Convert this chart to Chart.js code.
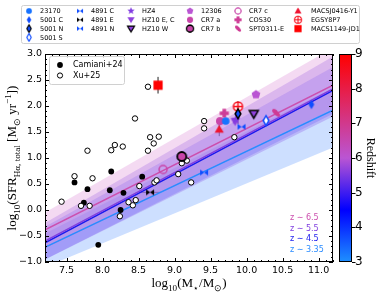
<!DOCTYPE html>
<html>
<head>
<meta charset="utf-8">
<script src="https://cdn.jsdelivr.net/npm/chart.js@4.4.0/dist/chart.umd.min.js"></script>
<style>
  html, body { margin: 0; padding: 0; background: #fff; }
</style>
</head>
<body>
<canvas id="sfr-mass" width="381" height="299"></canvas>
<script>
// Axis ticks
const xTicks = [7.5, 8.0, 8.5, 9.0, 9.5, 10.0, 10.5, 11.0];
const yTicks = [-1.0, -0.5, 0.0, 0.5, 1.0, 1.5, 2.0, 2.5, 3.0];
const zTicks = [3, 4, 5, 6, 7, 8, 9];

// Xu+25 (open circles)
const xuMass = [7.43, 7.61, 7.79, 7.70, 7.82, 7.86, 8.12, 8.17, 8.28, 8.24, 8.36, 8.42, 8.46, 8.51,
  8.45, 8.63, 8.63, 8.66, 8.71, 8.78, 8.72, 8.75, 9.05, 9.10, 9.17, 9.23, 9.41, 9.41, 9.83];
const xuSfr = [0.16, 0.65, 1.14, 0.08, 0.08, 0.61, 1.15, 1.25, 1.22, -0.12, 0.15, 0.09, 0.19, 0.46,
  1.76, 2.37, 1.14, 1.40, 1.28, 1.41, 0.53, 0.57, 0.69, 0.90, 0.95, 0.53, 1.71, 1.57, 1.40];

// Camiani+24 (filled circles)
const camMass = [7.61, 7.79, 7.74, 7.94, 8.10, 8.12, 8.29, 8.25, 8.55];
const camSfr = [0.53, 0.40, 0.14, -0.67, 0.38, 0.74, 0.33, 0.00, 0.64];

// Individual objects
const objNames = ['23170', '5001 C', '5001 N', '5001 S', '4891 C', '4891 E', '4891 N',
  'HZ4', 'HZ10 E, C', 'HZ10 W', '12306', 'CR7 a', 'CR7 b', 'CR7 c', 'COS30', 'SPT0311-E',
  'MACSJ0416-Y1', 'EGSY8P7', 'MACS1149-JD1'];
const objMass = [9.71, 10.90, 9.88, 10.27, 9.93, 8.66, 9.41, 9.85, 9.84, 10.10, 10.13, 9.63, 9.10, 8.84,
  9.69, 10.41, 9.62, 9.88, 8.77];
const objSfr = [1.71, 2.03, 1.85, 1.72, 1.60, 0.34, 0.72, 1.74, 1.70, 1.85, 2.22, 1.71, 1.03, 0.78,
  1.86, 1.87, 1.55, 1.99, 2.40];
const objRedshift = [3.3, 3.7, 3.7, 3.7, 3.7, 3.7, 3.7, 5.54, 5.65, 5.65, 6.0, 6.6, 6.6, 6.6,
  6.85, 6.9, 8.31, 8.68, 9.11];
const objErrX = [0, 0, 0, 0, 0, 0.15, 0, 0, 0, 0, 0, 0, 0, 0, 0, 0, 0, 0, 0];
const objErrY = [0, 0, 0.2, 0, 0, 0, 0, 0, 0, 0, 0, 0, 0, 0, 0, 0.05, 0.13, 0.1, 0.16];

// Fitted relations (values at the two ends of the mass axis)
const fitMass = [7.2, 11.2];
const fitLabels = ['z ∼ 6.5', 'z ∼ 5.5', 'z ∼ 4.5', 'z ∼ 3.35'];
const fit65 = [-0.38, 2.40];
const fit55 = [-0.60, 2.33];
const fit45 = [-0.63, 2.30];
const fit335 = [-0.72, 1.92];
const band65Hi = [-0.05, 3.12];
const band65Lo = [-0.75, 1.95];
const band55Hi = [-0.25, 2.95];
const band55Lo = [-0.95, 1.80];
const band45Hi = [-0.32, 2.75];
const band45Lo = [-0.95, 1.85];
const band335Hi = [-0.45, 2.35];
const band335Lo = [-1.10, 1.20];

// ---- styles ----
const fitColors = ['#cc4fae', '#8040e0', '#1a1aee', '#2b8cff'];
const bandColors = ['rgba(222,140,215,0.32)', 'rgba(150,105,235,0.35)', 'rgba(80,80,255,0.28)', 'rgba(90,150,255,0.30)'];

// redshift colour map: dodgerblue -> blue -> mediumorchid -> red
const cmapStops = [[3, [30, 144, 255]], [4.5, [0, 0, 255]], [6, [186, 85, 211]], [9, [255, 0, 0]]];
const cmap = (z) => {
  z = Math.max(3, Math.min(9, z));
  for (let i = 0; i < cmapStops.length - 1; i++) {
    const [z0, c0] = cmapStops[i];
    const [z1, c1] = cmapStops[i + 1];
    if (z <= z1) {
      const t = (z - z0) / (z1 - z0);
      const c = c0.map((v, k) => Math.round(v + (c1[k] - v) * t));
      return `rgb(${c[0]},${c[1]},${c[2]})`;
    }
  }
  return 'rgb(255,0,0)';
};

// marker sprites
const makeMarker = (shape, face, edge, lw, r) => {
  const pad = Math.ceil(lw) + 1;
  const size = Math.ceil(2 * r + 2 * pad);
  const c = document.createElement('canvas');
  c.width = size;
  c.height = size;
  const g = c.getContext('2d');
  g.translate(size / 2, size / 2);
  g.beginPath();
  if (shape === 'circle' || shape === 'oplus') {
    g.arc(0, 0, r, 0, Math.PI * 2);
  } else if (shape === 'thin_diamond') {
    g.moveTo(0, -r); g.lineTo(0.6 * r, 0); g.lineTo(0, r); g.lineTo(-0.6 * r, 0); g.closePath();
  } else if (shape === 'bowtie') {
    g.moveTo(-r, -0.75 * r); g.lineTo(0, 0); g.lineTo(r, -0.75 * r);
    g.lineTo(r, 0.75 * r); g.lineTo(0, 0); g.lineTo(-r, 0.75 * r); g.closePath();
  } else if (shape === 'star') {
    for (let k = 0; k < 10; k++) {
      const a = -Math.PI / 2 + k * Math.PI / 5;
      const rr = k % 2 ? r * 0.42 : r;
      g.lineTo(rr * Math.cos(a), rr * Math.sin(a));
    }
    g.closePath();
  } else if (shape === 'pentagon') {
    for (let k = 0; k < 5; k++) {
      const a = -Math.PI / 2 + k * 2 * Math.PI / 5;
      g.lineTo(r * Math.cos(a), r * Math.sin(a));
    }
    g.closePath();
  } else if (shape === 'tri_down') {
    g.moveTo(-r, -0.7 * r); g.lineTo(r, -0.7 * r); g.lineTo(0, r); g.closePath();
  } else if (shape === 'tri_up') {
    g.moveTo(-r, 0.7 * r); g.lineTo(r, 0.7 * r); g.lineTo(0, -r); g.closePath();
  } else if (shape === 'square') {
    g.rect(-r, -r, 2 * r, 2 * r);
  } else if (shape === 'plus') {
    const w = r * 0.4;
    g.moveTo(-w, -r); g.lineTo(w, -r); g.lineTo(w, -w); g.lineTo(r, -w); g.lineTo(r, w); g.lineTo(w, w);
    g.lineTo(w, r); g.lineTo(-w, r); g.lineTo(-w, w); g.lineTo(-r, w); g.lineTo(-r, -w); g.lineTo(-w, -w);
    g.closePath();
  } else if (shape === 'ellipse') {
    g.ellipse(0, 0, r, r * 0.45, Math.PI / 4, 0, Math.PI * 2);
  }
  if (face) { g.fillStyle = face; g.fill(); }
  if (lw > 0) { g.strokeStyle = edge; g.lineWidth = lw; g.stroke(); }
  if (shape === 'oplus') {
    g.beginPath();
    g.moveTo(-r, 0); g.lineTo(r, 0); g.moveTo(0, -r); g.lineTo(0, r);
    g.stroke();
  }
  return c;
};

const objStyle = [
  ['circle', 1, null, 0, 3.8],
  ['thin_diamond', 1, null, 0, 4.8],
  ['thin_diamond', 1, '#000', 1.5, 4.8],
  ['thin_diamond', '#fff', 1, 1.5, 4.8],
  ['bowtie', 1, null, 0, 4],
  ['bowtie', '#000', null, 0, 4],
  ['bowtie', 1, null, 0, 4],
  ['star', 1, null, 0, 5],
  ['tri_down', 1, null, 0, 4.5],
  ['tri_down', 1, '#000', 1.5, 4.5],
  ['pentagon', 1, null, 0, 4.6],
  ['circle', 1, null, 0, 4],
  ['circle', 1, '#000', 1.8, 4.5],
  ['circle', null, 1, 1.5, 4],
  ['plus', 1, null, 0, 4.6],
  ['ellipse', 1, null, 0, 5],
  ['tri_up', 1, null, 0, 4.6],
  ['oplus', '#fff', 1, 1.5, 4.5],
  ['square', 1, null, 0, 4.6],
];
const objMarkers = objStyle.map(([shape, face, edge, lw, r], i) => {
  const col = cmap(objRedshift[i]);
  return makeMarker(shape, face === 1 ? col : face, edge === 1 ? col : edge, lw, r);
});

// legend layout: objects by column
const legendCols = [[0, 1, 2, 3], [4, 5, 6], [7, 8, 9], [10, 11, 12], [13, 14, 15], [16, 17, 18]];
const legendMarkerX = [29, 80, 131, 190, 238, 298];
const legendTextX = [40, 91, 142, 201, 249, 311];
const legendRowY = [11, 19.8, 28.6, 37.4];

// ---- datasets ----
const pts = (xs, ys) => xs.map((x, i) => ({ x, y: ys[i] }));
const datasets = [];

objNames.forEach((name, i) => {
  datasets.push({
    label: name,
    data: [{ x: objMass[i], y: objSfr[i] }],
    pointStyle: objMarkers[i],
    pointRadius: 5,
    order: 0,
  });
});

datasets.push({
  label: 'Xu+25',
  data: pts(xuMass, xuSfr),
  pointStyle: 'circle',
  pointRadius: 2.7,
  backgroundColor: '#fff',
  borderColor: '#000',
  borderWidth: 1,
  order: 1,
});
datasets.push({
  label: 'Camiani+24',
  data: pts(camMass, camSfr),
  pointStyle: 'circle',
  pointRadius: 2.9,
  backgroundColor: '#000',
  borderColor: '#000',
  borderWidth: 0,
  order: 1,
});

[fit65, fit55, fit45, fit335].forEach((f, i) => {
  datasets.push({
    type: 'line',
    label: fitLabels[i],
    data: pts(fitMass, f),
    borderColor: fitColors[i],
    borderWidth: 1.5,
    pointRadius: 0,
    fill: false,
    order: 2 + i * 0.1,
  });
});

[[band65Hi, band65Lo], [band55Hi, band55Lo], [band45Hi, band45Lo], [band335Hi, band335Lo]].forEach(([hi, lo], i) => {
  datasets.push({
    type: 'line',
    label: 'band ' + fitLabels[i],
    data: pts(fitMass, hi),
    borderWidth: 0,
    borderColor: 'rgba(0,0,0,0)',
    pointRadius: 0,
    backgroundColor: bandColors[i],
    fill: '+1',
    order: 10 + i,
  });
  datasets.push({
    type: 'line',
    label: 'band lo ' + fitLabels[i],
    data: pts(fitMass, lo),
    borderWidth: 0,
    borderColor: 'rgba(0,0,0,0)',
    pointRadius: 0,
    fill: false,
    order: 10 + i,
  });
});

// rich text helper: parts = [text, 0 normal | 1 sub | 2 sup]
const drawRich = (g, parts, x, y, size, family) => {
  const small = size * 0.7;
  let w = 0;
  parts.forEach(([t, m]) => {
    g.font = `${m ? small : size}px ${family}`;
    w += g.measureText(t).width;
  });
  let cx = x - w / 2;
  g.textAlign = 'left';
  g.textBaseline = 'alphabetic';
  parts.forEach(([t, m]) => {
    g.font = `${m ? small : size}px ${family}`;
    const dy = m === 1 ? size * 0.28 : m === 2 ? -size * 0.4 : 0;
    g.fillText(t, cx, y + dy);
    cx += g.measureText(t).width;
  });
};

const decorPlugin = {
  id: 'decor',
  beforeDatasetsDraw(c) {
    const g = c.ctx;
    const xs = c.scales.x, ys = c.scales.y;
    g.save();
    g.strokeStyle = '#222';
    g.lineWidth = 1;
    objNames.forEach((n, i) => {
      const px = xs.getPixelForValue(objMass[i]);
      const py = ys.getPixelForValue(objSfr[i]);
      if (objErrY[i]) {
        g.beginPath();
        g.moveTo(px, ys.getPixelForValue(objSfr[i] - objErrY[i]));
        g.lineTo(px, ys.getPixelForValue(objSfr[i] + objErrY[i]));
        g.stroke();
      }
      if (objErrX[i]) {
        g.beginPath();
        g.moveTo(xs.getPixelForValue(objMass[i] - objErrX[i]), py);
        g.lineTo(xs.getPixelForValue(objMass[i] + objErrX[i]), py);
        g.stroke();
      }
    });
    g.restore();
  },
  afterDraw(c) {
    const g = c.ctx;
    const a = c.chartArea;
    const xs = c.scales.x, ys = c.scales.y, zs = c.scales.zc;
    g.save();

    // frame + inward ticks
    g.strokeStyle = '#000';
    g.lineWidth = 1;
    g.strokeRect(a.left + 0.5, a.top + 0.5, a.right - a.left - 1, a.bottom - a.top - 1);
    g.beginPath();
    for (let v = 7.2; v <= 11.2001; v += 0.1) {
      const px = Math.round(xs.getPixelForValue(v)) + 0.5;
      const major = Math.abs(v * 2 - Math.round(v * 2)) < 1e-6;
      const L = major ? 4 : 2;
      g.moveTo(px, a.bottom); g.lineTo(px, a.bottom - L);
      g.moveTo(px, a.top); g.lineTo(px, a.top + L);
    }
    for (let v = -1; v <= 3.0001; v += 0.1) {
      const py = Math.round(ys.getPixelForValue(v)) + 0.5;
      const major = Math.abs(v * 2 - Math.round(v * 2)) < 1e-6;
      const L = major ? 4 : 2;
      g.moveTo(a.left, py); g.lineTo(a.left + L, py);
      g.moveTo(a.right, py); g.lineTo(a.right - L, py);
    }
    g.stroke();

    // colour bar
    const cbL = a.right + 6, cbR = a.right + 19;
    const cbT = zs.getPixelForValue(9), cbB = zs.getPixelForValue(3);
    const grad = g.createLinearGradient(0, cbB, 0, cbT);
    cmapStops.forEach(([z]) => grad.addColorStop((z - 3) / 6, cmap(z)));
    g.fillStyle = grad;
    g.fillRect(cbL, cbT, cbR - cbL, cbB - cbT);
    g.strokeRect(cbL + 0.5, cbT + 0.5, cbR - cbL - 1, cbB - cbT - 1);
    g.beginPath();
    zTicks.forEach((z) => {
      const py = Math.round(zs.getPixelForValue(z)) + 0.5;
      g.moveTo(cbR, py); g.lineTo(cbR + 3.5, py);
    });
    g.stroke();
    g.fillStyle = '#000';
    g.save();
    g.translate(370, (cbT + cbB) / 2);
    g.rotate(Math.PI / 2);
    g.font = '12px "Liberation Serif"';
    g.textAlign = 'center';
    g.textBaseline = 'middle';
    g.fillText('Redshift', 0, 0);
    g.restore();

    // axis titles
    drawRich(g, [['log', 0], ['10', 1], ['(M', 0], ['⋆', 1], ['/M', 0], ['⊙', 1], [')', 0]],
      (a.left + a.right) / 2, 287, 13, '"Liberation Serif"');
    g.save();
    g.translate(16, (a.top + a.bottom) / 2);
    g.rotate(-Math.PI / 2);
    drawRich(g, [['log', 0], ['10', 1], ['(SFR', 0], ['Hα, total', 1], [' [M', 0], ['⊙', 1], [' yr', 0], ['−1', 2], ['])', 0]],
      0, 0, 13, '"Liberation Serif"');
    g.restore();

    // fit labels
    g.font = '8px "DejaVu Sans"';
    g.textAlign = 'left';
    g.textBaseline = 'middle';
    fitLabels.forEach((t, i) => {
      g.fillStyle = fitColors[i];
      g.fillText(t, 290, 218 + i * 10.7);
    });

    // inner legend (literature samples)
    g.fillStyle = 'rgba(255,255,255,0.85)';
    g.strokeStyle = '#d0d0d0';
    g.beginPath();
    g.roundRect(49.5, 56.5, 75, 28, 2);
    g.fill();
    g.stroke();
    g.fillStyle = '#000';
    g.beginPath(); g.arc(60, 65, 2.9, 0, Math.PI * 2); g.fill();
    g.beginPath(); g.arc(60, 75.5, 2.6, 0, Math.PI * 2);
    g.fillStyle = '#fff'; g.fill(); g.strokeStyle = '#000'; g.stroke();
    g.fillStyle = '#000';
    g.font = '8px "DejaVu Sans"';
    g.fillText('Camiani+24', 73, 65);
    g.fillText('Xu+25', 73, 75.5);

    // object legend
    g.fillStyle = '#fff';
    g.strokeStyle = '#d0d0d0';
    g.beginPath();
    g.roundRect(21.5, 5.5, 338, 38, 2);
    g.fill();
    g.stroke();
    g.fillStyle = '#000';
    g.font = '6.5px "DejaVu Sans"';
    legendCols.forEach((col, ci) => {
      col.forEach((idx, ri) => {
        const m = objMarkers[idx];
        const s = 0.78;
        const w = m.width * s, h = m.height * s;
        g.drawImage(m, legendMarkerX[ci] - w / 2, legendRowY[ri] - h / 2, w, h);
        g.fillText(objNames[idx], legendTextX[ci], legendRowY[ri] + 0.5);
      });
    });
    g.restore();
  },
};

const ctx = document.getElementById('sfr-mass');
const tickFont = { family: '"DejaVu Sans"', size: 9.5 };
const fmt = (v) => v.toFixed(1).replace('-', '−');

new Chart(ctx, {
  type: 'scatter',
  data: { datasets },
  options: {
    responsive: false,
    animation: false,
    layout: { padding: { top: 54, left: 0, right: 0, bottom: 0 } },
    plugins: {
      legend: { display: false },
      tooltip: { enabled: false },
    },
    scales: {
      x: {
        type: 'linear',
        min: 7.2,
        max: 11.2,
        afterBuildTicks: (s) => { s.ticks = xTicks.map((v) => ({ value: v })); },
        afterFit: (s) => { s.height = 37; },
        ticks: { font: tickFont, color: '#000', padding: 3, maxRotation: 0, callback: fmt },
        grid: { display: false, drawTicks: false },
        border: { display: false },
      },
      y: {
        type: 'linear',
        min: -1,
        max: 3,
        afterBuildTicks: (s) => { s.ticks = yTicks.map((v) => ({ value: v })); },
        afterFit: (s) => { s.width = 45; },
        ticks: { font: tickFont, color: '#000', padding: 3, callback: fmt },
        grid: { display: false, drawTicks: false },
        border: { display: false },
      },
      zc: {
        type: 'linear',
        position: 'right',
        min: 3,
        max: 9,
        afterBuildTicks: (s) => { s.ticks = zTicks.map((v) => ({ value: v })); },
        afterFit: (s) => { s.width = 48; },
        ticks: { font: { family: '"DejaVu Sans"', size: 12 }, color: '#000', padding: 22 },
        grid: { display: false, drawTicks: false },
        border: { display: false },
      },
    },
  },
  plugins: [decorPlugin],
});
</script>
</body>
</html>
